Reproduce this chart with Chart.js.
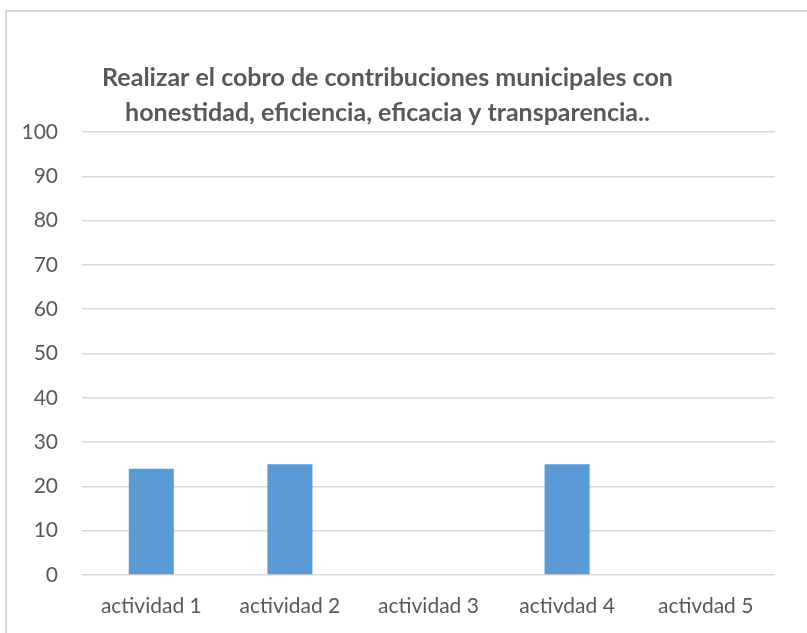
<!DOCTYPE html>
<html>
<head>
<meta charset="utf-8">
<script src="https://cdn.jsdelivr.net/npm/chart.js@4/dist/chart.umd.min.js"></script>
<style>
  html, body { margin: 0; padding: 0; background: #fff; }
  body { width: 807px; height: 633px; position: relative; overflow: hidden; }
  #frame {
    position: absolute; left: 5px; top: 10px; width: 840px; height: 660px;
    border: 2px solid #d9d9d9; box-sizing: border-box;
  }
  #wrap { position: absolute; left: 0; top: 0; width: 807px; height: 633px; }
</style>
</head>
<body>
<div id="frame"></div>
<div id="wrap"><canvas id="chart"></canvas></div>
<script>
(function () {
    'use strict';

    var TITLE_LINES = [
        'Realizar el cobro de contribuciones municipales con',
        'honestidad, eficiencia, eficacia y transparencia..'
    ];
    var CATEGORIES = ['actividad 1', 'actividad 2', 'actividad 3', 'activdad 4', 'activdad 5'];
    var VALUES = [24, 25, 0, 25, 0];
    var Y_MIN = 0, Y_MAX = 100, Y_STEP = 10;

    var TEXT = '#595959';
    var GRID = '#d9d9d9';
    var BAR = '#5b9bd5';
    var FONT = "Lato, 'Open Sans', sans-serif";

    new Chart(document.getElementById('chart'), {
        type: 'bar',
        data: {
            labels: CATEGORIES,
            datasets: [{
                label: 'Serie 1',
                data: VALUES,
                backgroundColor: BAR,
                borderWidth: 0,
                categoryPercentage: 1,
                barPercentage: 0.325
            }]
        },
        options: {
            responsive: true,
            maintainAspectRatio: false,
            animation: false,
            layout: { padding: { left: 0, right: 32, top: 0, bottom: 0 } },
            plugins: {
                legend: { display: false },
                tooltip: { enabled: false },
                title: {
                    display: true,
                    text: TITLE_LINES,
                    color: TEXT,
                    font: { family: FONT, size: 25, weight: 'bold', lineHeight: 1.4 },
                    padding: { top: 60, bottom: 2 }
                }
            },
            scales: {
                x: {
                    grid: { display: false, drawTicks: false },
                    border: { display: false },
                    ticks: {
                        color: TEXT,
                        font: { family: FONT, size: 21 },
                        padding: 19,
                        maxRotation: 0
                    },
                    afterFit: function (s) { s.height = 58; }
                },
                y: {
                    min: Y_MIN,
                    max: Y_MAX,
                    grid: { color: GRID, lineWidth: 1.5, drawTicks: false },
                    border: { display: false },
                    ticks: {
                        stepSize: Y_STEP,
                        color: TEXT,
                        font: { family: FONT, size: 21 },
                        padding: 24
                    },
                    afterFit: function (s) { s.width = 82; }
                }
            }
        }
    });
})();
</script>
</body>
</html>
